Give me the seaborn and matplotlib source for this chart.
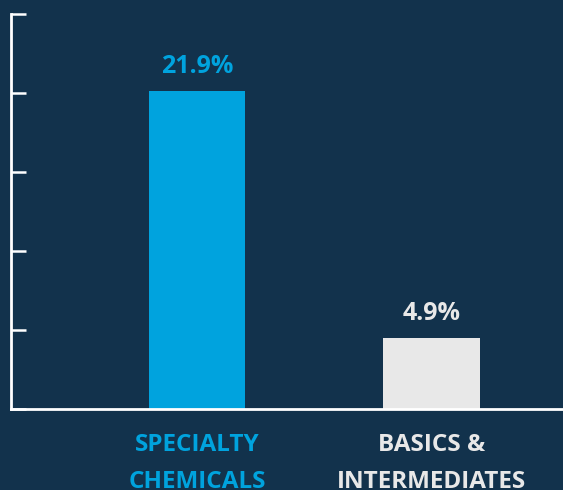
import matplotlib
matplotlib.use("Agg")
import matplotlib.pyplot as plt
import numpy as np
import seaborn as sns

# data
categories = ["SPECIALTY\nCHEMICALS", "BASICS &\nINTERMEDIATES"]
values = [21.9, 4.9]
value_labels = ["21.9%", "4.9%"]
bar_colors = ["#00A3DE", "#E8E8E8"]
bg = "#12324C"

sns.set_style("white")
plt.rcParams["font.family"] = ["Open Sans", "DejaVu Sans"]

fig = plt.figure(figsize=(5.63, 4.90), dpi=100, facecolor=bg)
ax = fig.add_axes([11 / 563, 81 / 490, 552 / 563, 395 / 490])
ax.set_facecolor(bg)

sns.barplot(x=categories, y=values, hue=categories, palette=bar_colors,
            width=0.41, saturation=1, legend=False, linewidth=0, ax=ax)

ymax = 27.2
ax.set_ylim(0, ymax)
ax.set_xlim(-0.793, 1.561)

# value labels above bars
for i, (v, lab) in enumerate(zip(values, value_labels)):
    ax.annotate(lab, (i, v), xytext=(0, 13), textcoords="offset points",
                ha="center", va="baseline", fontsize=18, fontweight="bold",
                color=bar_colors[i])

# axes styling
for s in ["top", "right"]:
    ax.spines[s].set_visible(False)
for s in ["left", "bottom"]:
    ax.spines[s].set_color("white")
    ax.spines[s].set_linewidth(2)

ax.set_yticks(np.linspace(0, ymax, 6))
ax.set_yticklabels([])
ax.tick_params(axis="y", direction="in", length=11, width=1.8, color="white", left=True)
ax.tick_params(axis="x", length=0, pad=17)
ax.set_xticks(range(len(categories)))
ax.set_xticklabels(categories, fontsize=17.5, fontweight="bold", linespacing=1.72)
for t, c in zip(ax.get_xticklabels(), bar_colors):
    t.set_color(c)
    t.set_verticalalignment("top")

ax.set_xlabel("")
ax.set_ylabel("")

fig.savefig("out.png", dpi=100, facecolor=bg)
